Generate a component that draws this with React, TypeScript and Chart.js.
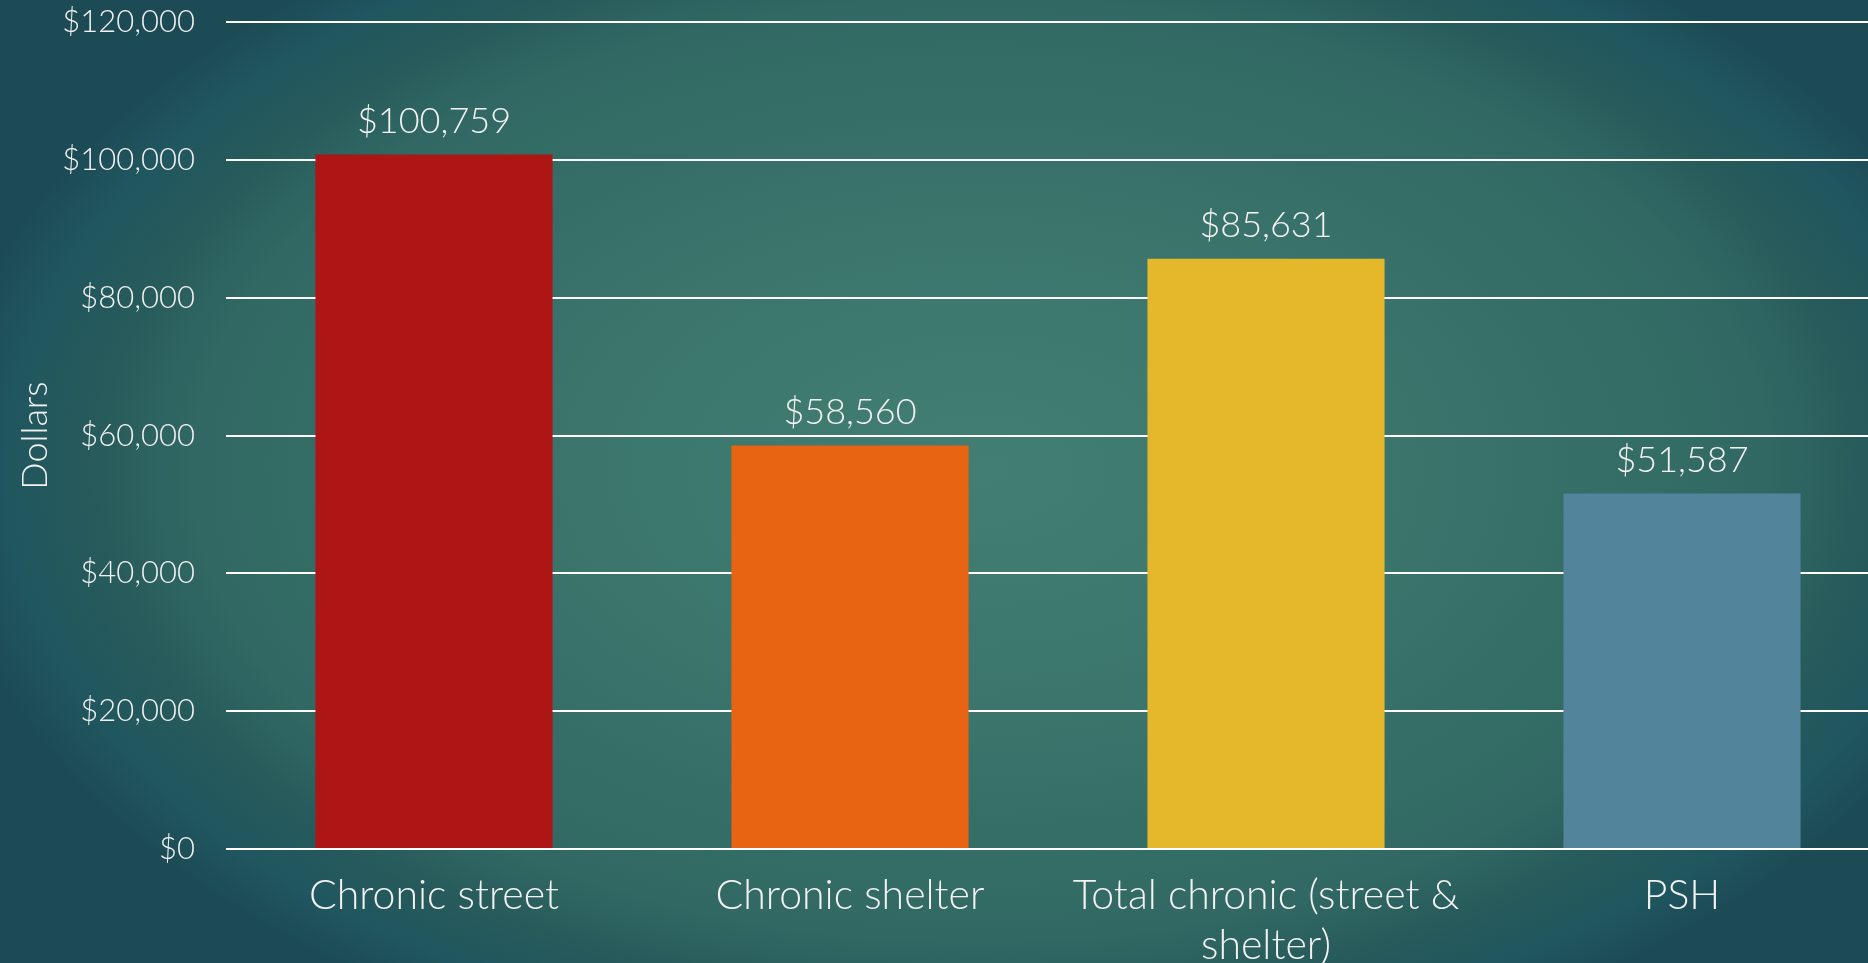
import React, { useEffect, useRef } from "react";
import { Chart, registerables } from "chart.js";

Chart.register(...registerables);

const categories: (string | string[])[] = [
  "Chronic street",
  "Chronic shelter",
  ["Total chronic (street &", "shelter)"],
  "PSH",
];
const costs = [100759, 58560, 85631, 51587];
const barColors = ["#AE1515", "#E86412", "#E5B72A", "#52849B"];
const yTicks = [0, 20000, 40000, 60000, 80000, 100000, 120000];
const yTitle = "Dollars";

const FONT = "Lato, 'Noto Sans', sans-serif";
const TEXT = "#F2F2F2";

const fmt = (v: number) => "$" + v.toLocaleString("en-US");

const bgPlugin = {
  id: "bgGrad",
  beforeDraw(chart: any) {
    const { ctx, width, height } = chart;
    ctx.save();
    ctx.fillStyle = "#1c4a55";
    ctx.fillRect(0, 0, width, height);
    ctx.translate(980, 470);
    ctx.scale(1, 0.6);
    const g = ctx.createRadialGradient(0, 0, 0, 0, 0, 1050);
    g.addColorStop(0, "#437e72");
    g.addColorStop(0.3, "#3d786e");
    g.addColorStop(0.75, "#316863");
    g.addColorStop(0.85, "#265a5b");
    g.addColorStop(0.93, "#20565f");
    g.addColorStop(1, "#1c4a55");
    ctx.fillStyle = g;
    ctx.fillRect(-1100, -1700, 2200, 3400);
    ctx.restore();
  },
};

const labelPlugin = {
  id: "valueLabels",
  afterDatasetsDraw(chart: any) {
    const { ctx } = chart;
    const meta = chart.getDatasetMeta(0);
    ctx.save();
    ctx.font = `300 36px ${FONT}`;
    ctx.fillStyle = TEXT;
    ctx.textAlign = "center";
    ctx.textBaseline = "middle";
    meta.data.forEach((bar: any, i: number) => {
      ctx.fillText(fmt(costs[i]), bar.x, bar.y - 33);
    });
    ctx.restore();
  },
};

export default function App() {
  const ref = useRef<HTMLCanvasElement>(null);

  useEffect(() => {
    document.body.style.margin = "0";
    const chart = new Chart(ref.current!, {
      type: "bar",
      data: {
        labels: categories,
        datasets: [
          {
            data: costs,
            backgroundColor: barColors,
            borderWidth: 0,
            barPercentage: 0.57,
            categoryPercentage: 1,
          },
        ],
      },
      options: {
        responsive: false,
        animation: false,
        devicePixelRatio: 1,
        layout: { padding: { top: 22, left: 0, right: 0, bottom: 0 } },
        plugins: { legend: { display: false }, tooltip: { enabled: false } },
        scales: {
          x: {
            grid: { display: false, drawTicks: false },
            border: { display: false },
            ticks: {
              color: TEXT,
              font: { family: FONT, size: 41, weight: "300", lineHeight: 1.22 },
              padding: 22,
              maxRotation: 0,
              autoSkip: false,
            },
            afterFit(scale: any) {
              scale.height = 114;
              scale.paddingTop = 0;
              scale.paddingBottom = 0;
              scale.paddingLeft = 0;
              scale.paddingRight = 0;
            },
          },
          y: {
            min: 0,
            max: 120000,
            afterBuildTicks(scale: any) {
              scale.ticks = yTicks.map((v) => ({ value: v }));
            },
            grid: { color: "#FFFFFF", lineWidth: 2, drawTicks: false },
            border: { display: false },
            ticks: {
              color: TEXT,
              font: { family: FONT, size: 31, weight: "300" },
              padding: 31,
              callback: (v: any) => fmt(Number(v)),
            },
            title: {
              display: true,
              text: yTitle,
              color: TEXT,
              font: { family: FONT, size: 36, weight: "300", lineHeight: 1.2 },
              padding: { top: 14, bottom: 0 },
            },
            afterFit(scale: any) {
              scale.width = 226;
              scale.paddingTop = 0;
              scale.paddingBottom = 0;
            },
          },
        },
      },
      plugins: [bgPlugin, labelPlugin],
    });
    return () => chart.destroy();
  }, []);

  return (
    <div
      style={{
        position: "absolute",
        left: 0,
        top: 0,
        width: 1868,
        height: 963,
        overflow: "hidden",
      }}
    >
      <canvas ref={ref} width={1890} height={963} style={{ display: "block" }} />
    </div>
  );
}
